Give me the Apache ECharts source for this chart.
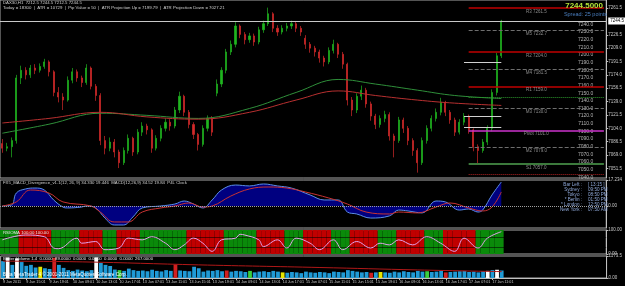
<!DOCTYPE html>
<html>
<head>
<meta charset="utf-8">
<script src="https://cdn.jsdelivr.net/npm/echarts@6/dist/echarts.min.js"></script>
<style>
html, body { margin: 0; padding: 0; background: #000; }
#chart { width: 625px; height: 286px; }
</style>
</head>
<body>
<div id="chart"></div>
<script>
// time labels, one every 5 bars
const xLabels = ['9 Jun 2011', '9 Jun 15:01', '9 Jun 19:01', '10 Jun 09:01', '10 Jun 13:01', '10 Jun 17:01',
  '13 Jun 07:01', '13 Jun 11:01', '13 Jun 15:01', '13 Jun 19:01', '14 Jun 09:01', '14 Jun 13:01',
  '14 Jun 17:01', '15 Jun 07:01', '15 Jun 11:01', '15 Jun 15:01', '15 Jun 19:01', '16 Jun 09:01',
  '16 Jun 13:01', '16 Jun 17:01', '17 Jun 07:01', '17 Jun 11:01']

// [open, close, low, high]
const candles = [
  [7084, 7078, 7072, 7090], [7078, 7080, 7074, 7085], [7080, 7088, 7066, 7092], [7088, 7170, 7084, 7174],
  [7170, 7180, 7162, 7186], [7180, 7174, 7168, 7184], [7174, 7183, 7170, 7187], [7183, 7180, 7175, 7188],
  [7180, 7185, 7177, 7189], [7185, 7191, 7182, 7195], [7191, 7178, 7172, 7193], [7178, 7151, 7146, 7180],
  [7151, 7145, 7138, 7158], [7145, 7141, 7128, 7150], [7141, 7167, 7139, 7172], [7167, 7178, 7163, 7183],
  [7178, 7170, 7165, 7181], [7170, 7164, 7158, 7173], [7164, 7183, 7161, 7188], [7183, 7159, 7155, 7185],
  [7159, 7147, 7140, 7162], [7147, 7088, 7082, 7150], [7088, 7078, 7070, 7094], [7078, 7086, 7074, 7092],
  [7086, 7073, 7066, 7090], [7073, 7059, 7052, 7076], [7059, 7075, 7056, 7079], [7075, 7091, 7071, 7096],
  [7091, 7073, 7068, 7093], [7073, 7099, 7070, 7103], [7099, 7107, 7094, 7112], [7107, 7102, 7096, 7110],
  [7102, 7078, 7072, 7104], [7078, 7091, 7075, 7095], [7091, 7104, 7087, 7108], [7104, 7112, 7100, 7117],
  [7112, 7107, 7101, 7116], [7107, 7128, 7104, 7132], [7128, 7146, 7124, 7152], [7146, 7125, 7120, 7148],
  [7125, 7109, 7104, 7128], [7109, 7096, 7090, 7112], [7096, 7083, 7075, 7098], [7083, 7104, 7080, 7108],
  [7104, 7117, 7100, 7121], [7117, 7099, 7094, 7120], [7150, 7162, 7146, 7168], [7162, 7180, 7158, 7184],
  [7180, 7204, 7176, 7208], [7204, 7214, 7200, 7219], [7214, 7238, 7210, 7243], [7238, 7227, 7222, 7240],
  [7227, 7220, 7214, 7230], [7220, 7225, 7216, 7229], [7225, 7217, 7212, 7228], [7217, 7233, 7214, 7237],
  [7233, 7241, 7229, 7245], [7241, 7254, 7238, 7262], [7254, 7235, 7230, 7256], [7235, 7230, 7225, 7239],
  [7230, 7235, 7227, 7239], [7235, 7238, 7231, 7242], [7238, 7241, 7234, 7245], [7241, 7235, 7230, 7244],
  [7235, 7230, 7225, 7238], [7222, 7214, 7208, 7226], [7214, 7209, 7203, 7217], [7209, 7204, 7198, 7212],
  [7204, 7196, 7190, 7207], [7196, 7191, 7185, 7199], [7191, 7206, 7188, 7210], [7206, 7214, 7202, 7220],
  [7214, 7201, 7196, 7216], [7201, 7188, 7182, 7204], [7188, 7141, 7134, 7190], [7141, 7128, 7120, 7145],
  [7128, 7146, 7124, 7150], [7146, 7154, 7141, 7160], [7154, 7136, 7131, 7157], [7136, 7120, 7114, 7139],
  [7120, 7109, 7103, 7123], [7109, 7117, 7105, 7121], [7117, 7122, 7112, 7127], [7122, 7094, 7088, 7125],
  [7094, 7088, 7066, 7097], [7088, 7115, 7085, 7119], [7115, 7104, 7098, 7118], [7104, 7088, 7082, 7107],
  [7088, 7075, 7068, 7091], [7075, 7059, 7046, 7078], [7059, 7088, 7056, 7092], [7088, 7104, 7084, 7108],
  [7104, 7117, 7100, 7121], [7117, 7125, 7113, 7130], [7125, 7138, 7121, 7144], [7138, 7125, 7120, 7140],
  [7125, 7115, 7110, 7128], [7115, 7099, 7094, 7118], [7099, 7112, 7096, 7116], [7112, 7120, 7108, 7124],
  [7120, 7102, 7097, 7122], [7102, 7080, 7074, 7104], [7080, 7075, 7058, 7083], [7075, 7086, 7072, 7090],
  [7086, 7104, 7082, 7108], [7104, 7151, 7100, 7155], [7151, 7199, 7147, 7203], [7199, 7244.5, 7196, 7246]
]
const lastPrice = 7244.5

// moving averages, [bar, price]
const maGreen = [[0, 7097.6], [10, 7109.4], [21, 7123.8], [31, 7121], [42, 7117], [53, 7130], [63, 7151],
  [72, 7168], [80, 7162], [89, 7154], [97, 7147], [107, 7143]]
const maRed = [[0, 7111], [10, 7117], [21, 7125], [31, 7119], [42, 7116], [53, 7125], [63, 7141],
  [72, 7153], [80, 7147], [89, 7141], [97, 7137], [107, 7134]]

// pivot levels: name, price, kind
const levels = [['R3', 7261.5, 'r'], ['M5', 7232.7, 'm'], ['R2', 7204.0, 'r'], ['M4', 7181.5, 'm'],
  ['R1', 7159.0, 'r'], ['M3', 7130.0, 'm'], ['Pivot', 7101.0, 'p'], ['M2', 7079.0, 'm'], ['S1', 7057.0, 's']]
const shortLines = [7190.5, 7120.0, 7106.0]
const greenDotLevel = 7145
const redDotLevel = 7043.5

const priceTicks = [7051.5, 7069.0, 7086.5, 7104.0, 7121.5, 7139.0, 7156.5, 7174.0, 7191.5, 7209.0, 7226.5, 7261.5]
const innerTicks = [7040, 7050, 7060, 7070, 7080, 7090, 7100, 7110, 7120, 7130, 7140, 7150, 7160,
  7170, 7180, 7190, 7200, 7210, 7220, 7230, 7240]

// MACD, [bar, value]
const macdMain = [[0, 0], [2, 0.7], [3, 8.6], [5, 11.3], [7, 11.9], [9, 10.6], [11, 4.0], [13, -0.7],
  [14, -1.3], [17, -0.7], [18, 0], [20, -1.3], [22, -8.0], [24, -12.6], [26, -12.6], [28, -7.3],
  [30, -1.3], [34, 0], [37, 1.3], [39, 3.3], [41, 1.3], [43, -1.3], [45, 4], [47, 10.6], [50, 13.9],
  [53, 13.3], [56, 14.6], [59, 13.3], [62, 11.9], [66, 7.3], [69, 4], [72, 4], [74, -4], [76, -5.3],
  [79, -8], [83, -6.6], [85, -2.7], [87, -3.3], [90, -4.6], [93, 3.3], [95, 2.7], [98, -2.7],
  [100, -2], [102, -4], [103, -2.7], [105, 7.3], [107, 15.9]]
const macdSignal = [[0, 0], [3, 2.7], [6, 10.6], [10, 8.6], [13, 2.7], [19, 0], [21, -4], [24, -10.6],
  [27, -10.6], [30, -4], [34, -1.3], [37, 0], [40, 2], [43, -0.7], [45, 0], [49, 6.6], [53, 11.3],
  [57, 12.6], [61, 11.9], [65, 9.3], [70, 5.3], [74, 1.3], [78, -4], [83, -5.3], [85, -4], [89, -4.6],
  [93, -0.7], [96, 2], [100, -1.3], [103, -3.3], [105, -0.7], [107, 9.3]]
const macdMax = 17.234
const macdMin = -14.6

// RSI zone per bar (g = up, r = down) and RSI line
const rsiZones = 'gggg' + 'rrrrrrr' + 'gggggg' + 'rrrrr' + 'ggg' + 'rrrrr' + 'gggggggggg' + 'rrrrrrrr' +
  'ggggggg' + 'rrrrrr' + 'gggg' + 'rrrrrr' + 'gggg' + 'rrrrrr' + 'gggg' + 'rrrrrr' + 'gggg' + 'rrr' +
  'rrrr' + 'gggggg'
const rsiLine = [[0, 59], [5, 79], [9, 72], [11, 25], [12, 22], [16, 66], [17, 45], [20, 52], [22, 18],
  [25, 25], [27, 66], [30, 59], [32, 72], [35, 45], [37, 18], [39, 38], [41, 66], [43, 45], [45, 11],
  [47, 59], [50, 66], [51, 82], [52, 79], [55, 59], [56, 31], [59, 59], [61, 25], [63, 66], [66, 45],
  [68, 18], [71, 59], [73, 18], [76, 52], [79, 25], [81, 45], [83, 38], [85, 59], [88, 38], [91, 72],
  [94, 45], [97, 11], [99, 66], [102, 25], [104, 66], [107, 93]]

// volume per bar, special bar colours and its average
const volumes = [900, 1100, 700, 1050, 850, 650, 700, 560, 600, 520, 480, 1080, 700, 540,
  420, 380, 450, 400, 360, 420, 1100, 800, 700, 640,
  450, 420, 380, 500, 420, 380, 400, 360, 440, 380, 350, 420, 380, 720, 400,
  380, 360, 600, 520, 340, 400,
  380, 420, 360, 400, 340, 380, 360, 320, 380, 300, 340, 360, 320, 380, 340, 300,
  280, 320, 300, 260, 340, 300, 280, 320, 300, 260, 340, 320, 300, 420, 380, 340, 300, 320, 280, 300,
  320, 300, 280, 340, 300, 360, 320, 300, 380, 340, 360, 320, 340, 380, 300, 320, 340, 360, 380, 320,
  340, 300, 360, 380, 420, 440, 400]
const volMarks = { 1: 'w', 3: 'w', 8: 'y', 11: 'r', 20: 'w', 25: 'g', 37: 'r', 48: 'r', 53: 'g', 60: 'y',
  79: 'r', 81: 'y', 91: 'g', 95: 'r', 104: 'w', 106: 'w' }
const volAvg = [[0, 900], [17, 860], [42, 700], [68, 560], [89, 430], [107, 340]]
const volMax = 1173.5

const slotCount = 130
const slots = Array.from({ length: slotCount }, (_, i) => i)
const FONT = '"Liberation Sans Narrow", "Liberation Sans", sans-serif'
const AXIS_TXT = '#c8c8c8'
const volColor = { b: '#1f9ad6', w: '#ffffff', r: '#d02020', g: '#3ccf3c', y: '#e6e600' }
const zoneColor = { g: '#0a8a0a', r: '#c00000' }
const levelStyle = {
  r: { color: '#c00000', width: 1.5, type: 'solid' },
  m: { color: '#6e6e6e', width: 1, type: 'dashed' },
  p: { color: '#cc33cc', width: 1.5, type: 'solid' },
  s: { color: '#3c7a3c', width: 2, type: 'solid' }
}

function seg(from, to, value, style, text) {
  return [{
    coord: [from, value],
    lineStyle: style,
    label: text ? {
      show: true, formatter: text, position: 'insideMiddleBottom', distance: 1,
      color: '#8c8c8c', fontSize: 4.5, fontFamily: FONT
    } : { show: false }
  }, { coord: [to, value] }]
}

const levelLines = levels.map(l => seg(100, slotCount - 1, l[1], levelStyle[l[2]], l[0] + ' ' + l[1].toFixed(1)))
shortLines.forEach(v => levelLines.push(seg(99, 107, v, { color: '#d0d0d0', width: 1, type: 'solid' })))
levelLines.push(seg(100, slotCount - 1, greenDotLevel, { color: '#2e9b2e', width: 1, type: 'dotted' }))
levelLines.push(seg(100, slotCount - 1, redDotLevel, { color: '#b02020', width: 1, type: 'dotted' }))
levelLines.push({
  yAxis: lastPrice,
  lineStyle: { color: '#c8c8c8', width: 1, type: 'solid' },
  label: {
    show: true, position: 'end', formatter: lastPrice.toFixed(1), distance: 2,
    backgroundColor: '#ffffff', color: '#000', fontSize: 4.5, padding: [1, 2], fontFamily: FONT
  }
})

const grids = [
  { top: 0, height: 178 },
  { top: 180, height: 48 },
  { top: 230, height: 24 },
  { top: 256, height: 22 }
].map(g => Object.assign({ left: 0, right: 14, show: true, borderColor: '#a8a8a8', borderWidth: 1 }, g))

const showLabel = (index) => index % 5 === 0 && index / 5 < xLabels.length
const xAxes = grids.map((g, i) => ({
  type: 'category',
  gridIndex: i,
  data: slots,
  boundaryGap: true,
  axisLine: { show: i === 3, lineStyle: { color: '#c0c0c0' } },
  axisTick: { show: i === 3, interval: showLabel, alignWithLabel: true, length: 2, lineStyle: { color: '#c0c0c0' } },
  axisLabel: {
    show: i === 3, interval: showLabel, align: 'left', margin: 2, fontSize: 3.7,
    color: AXIS_TXT, fontFamily: FONT,
    formatter: (v, index) => (index % 5 === 0 ? (xLabels[index / 5] || '') : '')
  },
  splitLine: { show: false }
}))

function rightAxis(gridIndex, min, max, ticks, fmt) {
  return {
    type: 'value', gridIndex, position: 'right', min, max, scale: true,
    axisLine: { show: true, lineStyle: { color: '#c0c0c0' } },
    axisTick: { show: true, length: 2, customValues: ticks, lineStyle: { color: '#c0c0c0' } },
    axisLabel: { customValues: ticks, formatter: fmt, fontSize: 4.5, color: AXIS_TXT, margin: 2, fontFamily: FONT },
    splitLine: { show: false }
  }
}

const yAxes = [
  rightAxis(0, 7039, 7272, priceTicks, v => v.toFixed(1)),
  {
    type: 'value', gridIndex: 0, position: 'right', min: 7039, max: 7272,
    axisLine: { show: false }, axisTick: { show: false }, splitLine: { show: false },
    axisLabel: { inside: true, customValues: innerTicks, formatter: v => v.toFixed(1), fontSize: 5,
      color: '#b4b4b4', margin: 13, fontFamily: FONT }
  },
  rightAxis(1, macdMin, macdMax, [macdMax, 0], v => (v === 0 ? '0.00' : v.toFixed(3))),
  rightAxis(2, 0, 100, [0, 100], v => v.toFixed(2)),
  rightAxis(3, 0, volMax, [0, volMax], v => (v === 0 ? '0.00' : v.toFixed(1)))
]

const txt = (x, y, text, fill, size, extra) => ({
  type: 'text', x, y, silent: true, z: 20,
  style: Object.assign({ text, fill, fontSize: size, fontFamily: FONT, verticalAlign: 'top' }, extra || {})
})

const infoRows = [['Bar Left', '[ 13:15 ]'], ['Sydney', '09:50 PM'], ['Tokyo', '08:50 PM'],
  ['* Berlin', '01:50 PM'], ['* London', '12:50 PM'], ['New York', '07:50 AM']]
const graphics = [
  txt(3, 1, 'DAX30,H1  7212.5 7244.5 7212.5 7244.5', '#d0d0d0', 4.3),
  txt(3, 6, 'Today = 18300  |  ATR = 10729  |  Pip Value = 50  |  ATR Projection Up = 7199.79  |  ATR Projection Down = 7027.21', '#d0d0d0', 4.3),
  txt(603, 2, '7244.5000', '#b5e53a', 8, { align: 'right', fontWeight: 'bold' }),
  txt(607, 11, 'Spread: 25 points', '#4a7fc0', 5.5, { align: 'right' }),
  txt(3, 181, 'FX5_MACD_Divergence_v1.1(12, 26, 9) 34.330 19.446  MACD(12,26,9) 34.52 19.84  P4L Clock', '#d0d0d0', 4.3),
  txt(3, 231, 'RSIOMA 100.00 100.00', '#e8e8e8', 4.3),
  txt(3, 257, 'Better Volume 1.4  0.0000  89.0000  0.0000  0.0000  0.0000  0.0000  267.0000', '#e8e8e8', 4.3),
  txt(3, 272, 'Beta MetaTrader 4 \u00a9 2001-2011 MetaQuotes Software Corp.', '#ffffff', 4.6)
]
infoRows.forEach((r, i) => {
  graphics.push(txt(582, 182 + i * 5, r[0] + ' :', '#8fa8d8', 4.6, { align: 'right' }))
  graphics.push(txt(588, 182 + i * 5, r[1], '#8fa8d8', 4.6))
})

const chart = echarts.init(document.getElementById('chart'), null, { renderer: 'canvas' })
chart.setOption({
  backgroundColor: '#000000',
  animation: false,
  grid: grids,
  xAxis: xAxes,
  yAxis: yAxes,
  graphic: graphics,
  series: [{
    type: 'candlestick',
    xAxisIndex: 0, yAxisIndex: 0,
    data: candles,
    barWidth: 1.6,
    itemStyle: { color: '#1fb51f', color0: '#d42a2a', borderColor: '#1fb51f', borderColor0: '#d42a2a', borderWidth: 0.7 },
    markLine: { symbol: ['none', 'none'], silent: true, animation: false, data: levelLines }
  }, {
    type: 'line', xAxisIndex: 0, yAxisIndex: 0, data: maGreen, smooth: 0.4, symbol: 'none', z: 3,
    lineStyle: { color: '#2f8f3a', width: 1 }
  }, {
    type: 'line', xAxisIndex: 0, yAxisIndex: 0, data: maRed, smooth: 0.4, symbol: 'none', z: 3,
    lineStyle: { color: '#b83030', width: 1 }
  }, {
    type: 'line', xAxisIndex: 1, yAxisIndex: 2, data: macdMain, smooth: 0.4, symbol: 'none',
    lineStyle: { color: '#5b8ee6', width: 1 },
    areaStyle: { color: '#000080', opacity: 1 },
    markLine: {
      symbol: ['none', 'none'], silent: true, label: { show: false },
      data: [{ yAxis: 0 }], lineStyle: { color: '#a0a0a0', type: 'dotted', width: 1 }
    }
  }, {
    type: 'line', xAxisIndex: 1, yAxisIndex: 2, data: macdSignal, smooth: 0.4, symbol: 'none', z: 4,
    lineStyle: { color: '#c83232', width: 1 }
  }, {
    type: 'bar', xAxisIndex: 2, yAxisIndex: 3, barWidth: '100%', silent: true, z: 1,
    data: rsiZones.split('').map(z => ({ value: 100, itemStyle: { color: zoneColor[z] } })),
    markLine: {
      symbol: ['none', 'none'], silent: true, label: { show: false },
      data: [{ yAxis: 70 }, { yAxis: 30 }], lineStyle: { color: 'rgba(0,0,0,0.55)', type: 'solid', width: 1 }
    }
  }, {
    type: 'line', xAxisIndex: 2, yAxisIndex: 3, data: rsiLine, smooth: 0.4, symbol: 'none', z: 6,
    lineStyle: { color: '#e3a0ea', width: 1 }
  }, {
    type: 'bar', xAxisIndex: 3, yAxisIndex: 4, barWidth: 3.8, z: 1,
    data: volumes.map((v, i) => ({ value: v, itemStyle: { color: volColor[volMarks[i] || 'b'] } }))
  }, {
    type: 'line', xAxisIndex: 3, yAxisIndex: 4, data: volAvg, smooth: 0.4, symbol: 'none', z: 6,
    lineStyle: { color: '#b01818', width: 1 }
  }]
})
</script>
</body>
</html>
